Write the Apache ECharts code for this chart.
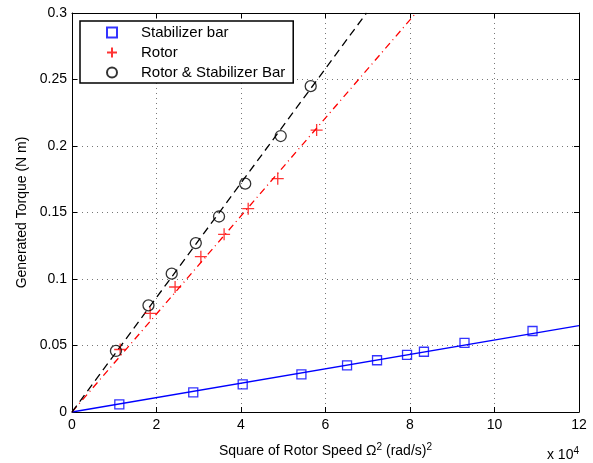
<!DOCTYPE html>
<html lang="en">
  <head>
    <meta charset="UTF-8" />
    <title>Generated Torque</title>
    <style>
      html,
      body {
        margin: 0;
        padding: 0;
        background: #fff;
      }
      #chart {
        width: 593px;
        height: 463px;
      }
    </style>
  </head>
  <body>
    <div id="chart"></div>
    <script src="https://cdn.jsdelivr.net/npm/echarts@6/dist/echarts.min.js"></script>
    <script>
      // x values are in units of 10^4 (rad/s)^2
      const stabX = [1.12, 2.87, 4.04, 5.43, 6.51, 7.22, 7.93, 8.33, 9.29, 10.9];
      const stabY = [0.0057, 0.0148, 0.0208, 0.0283, 0.0351, 0.0389, 0.0429, 0.0453, 0.0519, 0.0609];
      const rotorX = [1.14, 1.85, 2.44, 3.05, 3.6, 4.17, 4.87, 5.79];
      const rotorY = [0.047, 0.0742, 0.094, 0.1168, 0.1336, 0.1529, 0.1754, 0.212];
      const bothX = [1.04, 1.81, 2.36, 2.93, 3.48, 4.1, 4.94, 5.65];
      const bothY = [0.0459, 0.0802, 0.104, 0.127, 0.147, 0.1717, 0.2075, 0.245];
      // fitted lines through the origin: end points
      const stabFit = [[0, 0], [12, 0.065]];
      const rotorFit = [[0, 0], [8.14, 0.3]];
      const bothFit = [[0, 0], [6.97, 0.3]];

      const xTicks = { min: 0, max: 12, interval: 2 };
      const yTicks = { min: 0, max: 0.3, interval: 0.05 };

      const zip = (xs, ys) => xs.map((x, i) => [x, ys[i]]);
      const font = "Liberation Sans, Arial, sans-serif";

      const chart = echarts.init(document.getElementById("chart"));

      const frame = {
        type: "value",
        axisLine: { show: true, onZero: false, lineStyle: { color: "#000", width: 1 } },
        axisTick: { show: true, inside: true, length: 5, lineStyle: { color: "#000" } },
        axisLabel: { show: false },
        splitLine: { show: false },
      };

      const option = {
        animation: false,
        grid: { left: 72, right: 14, top: 13, bottom: 51 },
        xAxis: [
          {
            type: "value",
            ...xTicks,
            name:
              "{a|Square of Rotor Speed Ω}{s|2}{a| (rad/s)}{s|2}",
            nameLocation: "middle",
            nameGap: 30,
            nameTextStyle: {
              rich: {
                a: { fontSize: 14, fontFamily: font, color: "#000" },
                s: { fontSize: 10, fontFamily: font, color: "#000", padding: [0, 0, 8, 0] },
              },
            },
            axisLine: { onZero: false, lineStyle: { color: "#000" } },
            axisTick: { inside: true, length: 5, lineStyle: { color: "#000" } },
            axisLabel: { color: "#000", fontSize: 14, fontFamily: font, margin: 6 },
            splitLine: {
              show: true,
              lineStyle: { color: "#777", type: [1, 4], width: 1 },
            },
          },
          { ...frame, ...xTicks, position: "top" },
        ],
        yAxis: [
          {
            type: "value",
            ...yTicks,
            name: "Generated Torque (N m)",
            nameLocation: "middle",
            nameGap: 41,
            nameTextStyle: { fontSize: 14, fontFamily: font, color: "#000" },
            axisLine: { show: true, onZero: false, lineStyle: { color: "#000" } },
            axisTick: { show: true, inside: true, length: 5, lineStyle: { color: "#000" } },
            axisLabel: { color: "#000", fontSize: 14, fontFamily: font, margin: 5 },
            splitLine: {
              show: true,
              lineStyle: { color: "#777", type: [1, 4], width: 1 },
            },
          },
          { ...frame, ...yTicks, position: "right" },
        ],
        legend: {
          orient: "vertical",
          left: 80,
          top: 21,
          padding: [4, 8, 3, 26],
          itemWidth: 48,
          itemHeight: 10,
          itemGap: 5,
          symbolKeepAspect: true,
          borderColor: "#000",
          borderWidth: 1.5,
          backgroundColor: "#fff",
          textStyle: { fontSize: 15, fontFamily: font, color: "#000" },
          data: ["Stabilizer bar", "Rotor", "Rotor & Stabilizer Bar"],
        },
        graphic: [
          {
            type: "text",
            right: 14,
            top: 446,
            style: {
              text: "{a|x 10}{s|4}",
              rich: {
                a: { fontSize: 14, fontFamily: font, fill: "#000" },
                s: { fontSize: 10, fontFamily: font, fill: "#000", padding: [0, 0, 8, 0] },
              },
            },
          },
        ],
        series: [
          {
            name: "stab fit",
            type: "line",
            data: stabFit,
            symbol: "none",
            lineStyle: { color: "#0000ff", width: 1.3 },
            z: 1,
          },
          {
            name: "rotor fit",
            type: "line",
            data: rotorFit,
            symbol: "none",
            lineStyle: { color: "#ff0000", width: 1.3, type: [7, 4, 1, 4] },
            z: 1,
          },
          {
            name: "both fit",
            type: "line",
            data: bothFit,
            symbol: "none",
            lineStyle: { color: "#000", width: 1.3, type: [8, 5] },
            z: 1,
          },
          {
            name: "Stabilizer bar",
            type: "scatter",
            data: zip(stabX, stabY),
            symbol: "path://M0,0H10V10H0Z",
            symbolSize: 9,
            symbolKeepAspect: true,
            itemStyle: { color: "rgba(0,0,0,0)", borderColor: "#0000ff", borderWidth: 1.3 },
            z: 3,
          },
          {
            name: "Rotor",
            type: "scatter",
            data: zip(rotorX, rotorY),
            symbol: "path://M0,6H12M6,0V12",
            symbolSize: 12,
            itemStyle: { color: "rgba(0,0,0,0)", borderColor: "#ff0000", borderWidth: 1.3 },
            z: 3,
          },
          {
            name: "Rotor & Stabilizer Bar",
            type: "scatter",
            data: zip(bothX, bothY),
            symbol: "circle",
            symbolSize: 11,
            itemStyle: { color: "rgba(0,0,0,0)", borderColor: "#000", borderWidth: 1.3 },
            z: 3,
          },
        ],
      };

      chart.setOption(option);
    </script>
  </body>
</html>
